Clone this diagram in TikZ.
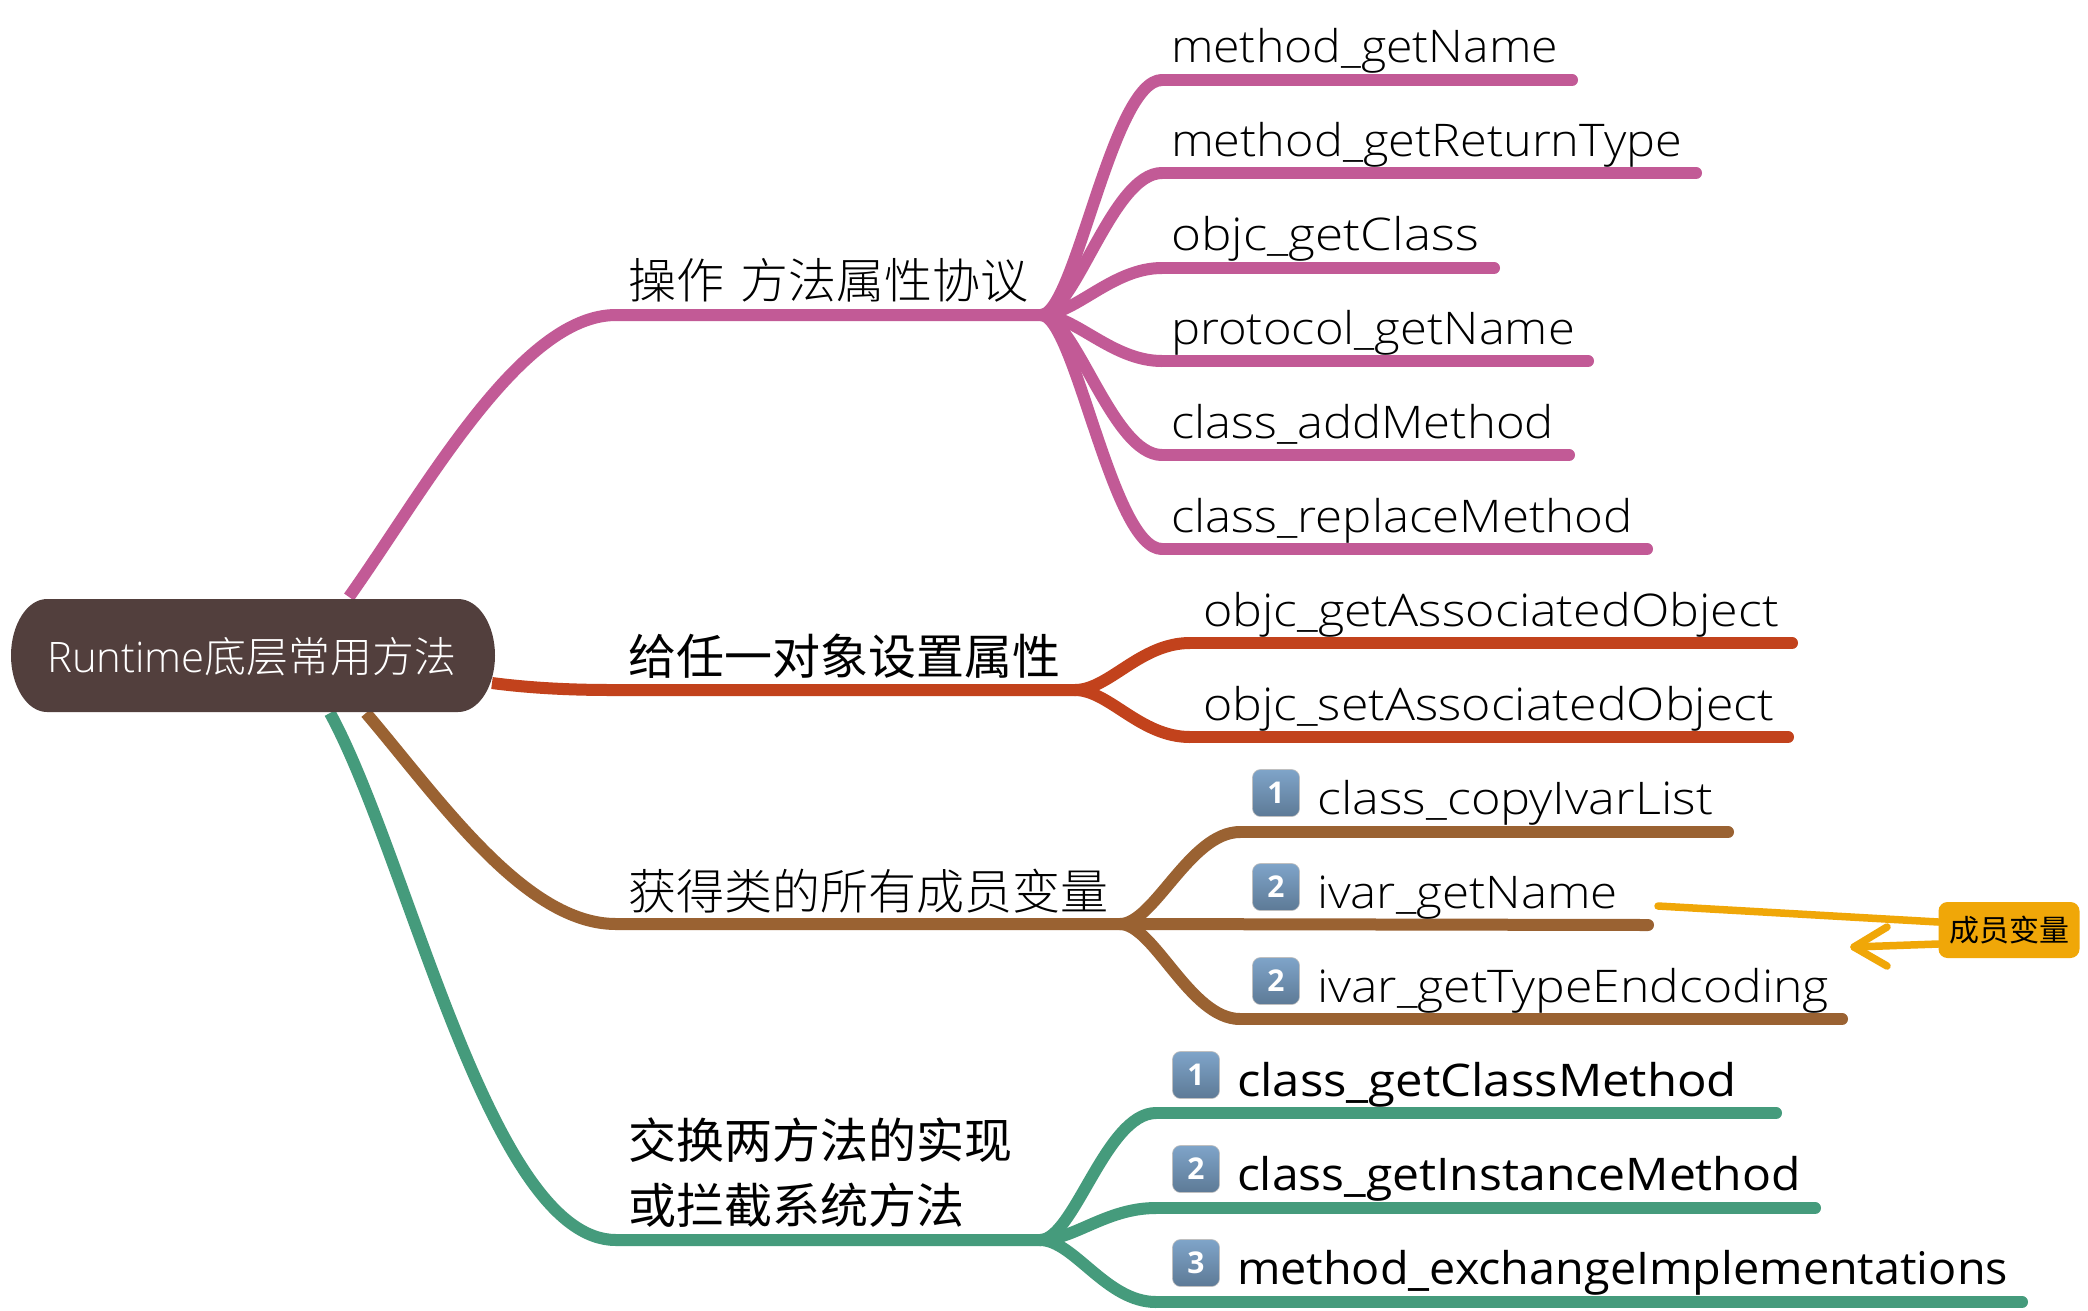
\documentclass[tikz,border=0pt]{standalone}
\usepackage{fontspec}
\usepackage{graphicx}
\usetikzlibrary{calc}
\setmainfont{Open Sans Light}
\newfontfamily\latreg{Open Sans}
\newfontfamily\cjklight{Noto Sans CJK SC Light}
\newfontfamily\cjkreg{Noto Sans CJK SC}
\definecolor{cpink}{HTML}{C25A96}
\definecolor{cred}{HTML}{C2421C}
\definecolor{cbrown}{HTML}{9A6232}
\definecolor{cgreen}{HTML}{459B7C}
\definecolor{corange}{HTML}{F0A708}
\definecolor{croot}{HTML}{523F3D}
\definecolor{cap1}{HTML}{7FA4C9}
\definecolor{cap2}{HTML}{5D7A96}
\tikzset{
  branch/.style={line width=12pt,line cap=round,line join=round},
  lab/.style={anchor=base west,inner sep=0pt,outer sep=0pt,font=\fontsize{45}{50}\selectfont},
  labreg/.style={lab,font=\fontsize{45}{50}\selectfont\latreg},
  zh/.style={anchor=base west,inner sep=0pt,outer sep=0pt,align=left,font=\fontsize{48}{65}\selectfont\cjklight},
  zhreg/.style={zh,font=\fontsize{48}{65}\selectfont\cjkreg},
  keycap/.style={rectangle,rounded corners=8pt,minimum size=47pt,inner sep=0pt,draw=white!75!black,line width=0.6pt,top color=cap1,bottom color=cap2,text=white,font=\fontsize{30}{30}\selectfont\latreg\bfseries},
  callout/.style={rectangle,rounded corners=9pt,fill=corange,minimum width=141pt,minimum height=56pt,inner sep=0pt,font=\fontsize{30}{30}\selectfont\cjkreg},
  rel/.style={corange,line width=7.5pt,line cap=round,line join=round}
}
\newcommand{\fan}[4][34]{\draw[branch,#2] (#3) .. controls +(#1,0) and ([xshift=-50pt]#4) .. (#4);}
\newcommand{\fitw}[2]{\resizebox{#1pt}{\height}{#2}}
\begin{document}
\begin{tikzpicture}[x=1pt,y=-1pt]
\useasboundingbox (0,0) rectangle (2088,1310);
\fill[white] (0,0) rectangle (2088,1310);
% coordinates
\coordinate (r1) at (349,597); \coordinate (m1) at (616,315); \coordinate (h1) at (1041,315);
\coordinate (r2) at (492,683); \coordinate (m2) at (612,690); \coordinate (h2) at (1075,690);
\coordinate (r3) at (366,713); \coordinate (m3) at (616,924); \coordinate (h3) at (1120,924);
\coordinate (r4) at (330,713); \coordinate (m4) at (616,1240); \coordinate (h4) at (1040,1240);
\foreach \n/\y/\e in {a/80/1572,b/173/1696,c/268/1494,d/361/1588,e/455/1569,f/549/1647}{
  \coordinate (f\n) at (1162,\y); \coordinate (e\n) at (\e,\y);}
\foreach \n/\y/\e in {g/643/1792,h/737/1788}{
  \coordinate (f\n) at (1190,\y); \coordinate (e\n) at (\e,\y);}
\foreach \n/\y/\e in {i/832/1728,j/925/1648,k/1019/1842}{
  \coordinate (f\n) at (1240,\y); \coordinate (e\n) at (\e,\y);}
\foreach \n/\y/\e in {l/1113/1776,m/1208/1815,n/1302/2022}{
  \coordinate (f\n) at (1156,\y); \coordinate (e\n) at (\e,\y);}
% main branches
\draw[branch,cpink,line cap=butt] (r1) .. controls (425,490) and (520,315) .. (m1) -- (h1);
\draw[branch,cred,line cap=butt] (r2) .. controls (530,688) and (570,690) .. (m2) -- (h2);
\draw[branch,cbrown,line cap=butt] (r3) .. controls (440,800) and (525,924) .. (m3) -- (h3);
\draw[branch,cgreen,line cap=butt] (r4) .. controls (410,860) and (490,1240) .. (m4) -- (h4);
% fans
\foreach \n in {a,b,c,d,e,f}{\fan{cpink}{h1}{f\n} \draw[branch,cpink] (f\n) -- (e\n);}
\foreach \n in {g,h}{\fan{cred}{h2}{f\n} \draw[branch,cred] (f\n) -- (e\n);}
\foreach \n in {i,k}{\fan{cbrown}{h3}{f\n} \draw[branch,cbrown] (f\n) -- (e\n);}
\draw[branch,cbrown] (h3) -- (ej);
\foreach \n in {l,m,n}{\fan{cgreen}{h4}{f\n} \draw[branch,cgreen] (f\n) -- (e\n);}
% root
\fill[croot] (47,599) -- (458,599) .. controls (479,599) and (495,625) .. (495,655.5) .. controls (495,686) and (479,712) .. (458,712) -- (47,712) .. controls (27,712) and (11,686) .. (11,655.5) .. controls (11,625) and (27,599) .. (47,599) -- cycle;
\node[anchor=base west,inner sep=0,text=white] (root) at (47,672) {\fitw{409}{\fontsize{42}{50}\selectfont Runtime\cjklight 底层常用方法}};
% level one labels
\node[zh] (n1) at (628,298) {操作 \kern6pt 方法属性协议};
\node[zhreg] (n2) at (628,674) {给任一对象设置属性};
\node[zh] (n3) at (628,909) {获得类的所有成员变量};
\node[zhreg] (n4) at (628,1223) {交换两方法的实现\\[0pt]或拦截系统方法};
% level two labels
\node[lab] (ta) at (1171,62) {\fitw{387}{method\_getName}};
\node[lab] (tb) at (1171,156) {\fitw{511}{method\_getReturnType}};
\node[lab] (tc) at (1171,250) {\fitw{308}{objc\_getClass}};
\node[lab] (td) at (1171,344) {\fitw{404}{protocol\_getName}};
\node[lab] (te) at (1171,438) {\fitw{383}{class\_addMethod}};
\node[lab] (tf) at (1171,532) {\fitw{462}{class\_replaceMethod}};
\node[lab] (tg) at (1203,626) {\fitw{576}{objc\_getAssociatedObject}};
\node[lab] (th) at (1203,720) {\fitw{571}{objc\_setAssociatedObject}};
\node[keycap] (ki) at (1276,793) {1};
\node[keycap] (kj) at (1276,887) {2};
\node[keycap] (kk) at (1276,981) {2};
\node[lab] (ti) at (1317,814) {\fitw{396}{class\_copyIvarList}};
\node[lab] (tj) at (1317,908) {\fitw{301}{ivar\_getName}};
\node[lab] (tk) at (1317,1002) {\fitw{512}{ivar\_getTypeEndcoding}};
\node[keycap] (kl) at (1196,1075) {1};
\node[keycap] (km) at (1196,1169) {2};
\node[keycap] (kn) at (1196,1263) {3};
\node[labreg] (tl) at (1237,1096) {\fitw{500}{class\_getClassMethod}};
\node[labreg] (tm) at (1237,1190) {\fitw{564}{class\_getInstanceMethod}};
\node[labreg] (tn) at (1237,1284) {\fitw{771}{method\_exchangeImplementations}};
% callout
\coordinate (cs) at (1658,906);
\coordinate (ct) at (1854,947);
\coordinate (ca1) at (1887,927);
\coordinate (ca2) at (1887,966);
\node[callout] (call) at (2009,930) {成员变量};
\draw[rel] (cs) -- (call.west |- 0,922);
\draw[rel] (call.west |- 0,944) -- (ct);
\draw[rel] (ca1) -- (ct) -- (ca2);
\end{tikzpicture}
\end{document}
